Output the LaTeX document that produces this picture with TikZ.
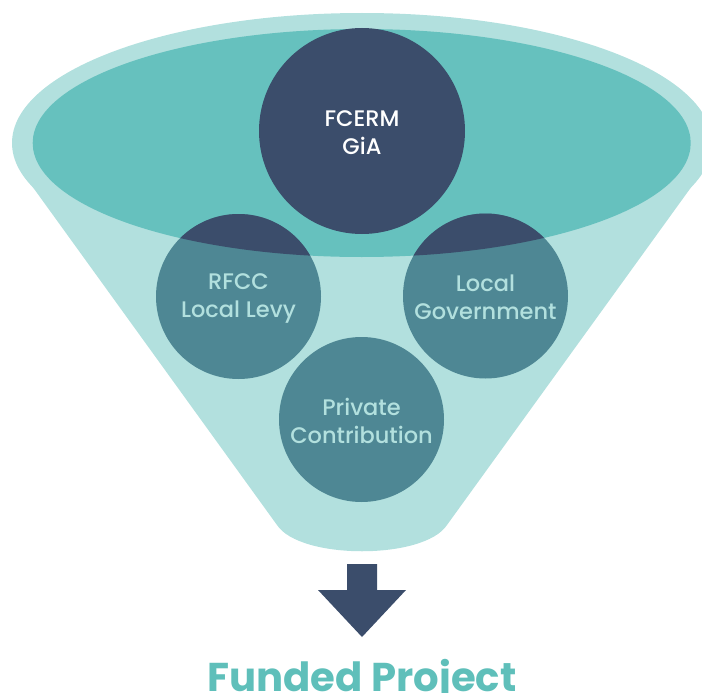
\documentclass[tikz,border=0pt]{standalone}
\usepackage{fontspec}
\setmainfont{Poppins}[UprightFont={* Medium}, BoldFont={* Bold}]
\definecolor{lightteal}{HTML}{B2E0DE}
\definecolor{midteal}{HTML}{66C1BE}
\definecolor{navy}{HTML}{3B4D6B}
\definecolor{muted}{HTML}{4E8794}
\definecolor{titleteal}{HTML}{5FBFBA}
\tikzset{
  fund/.style={circle, fill=muted, minimum size=165pt, inner sep=0pt},
  bigfund/.style={circle, fill=navy, minimum size=206pt, inner sep=0pt},
  lbl/.style={align=center, text=lightteal, font=\fontsize{22.5}{28}\selectfont},
  biglbl/.style={align=center, text=white, font=\fontsize{22.5}{28}\selectfont},
}
\begin{document}
\begin{tikzpicture}[x=1pt,y=-1pt]
\useasboundingbox (0,0) rectangle (702,693);
% funnel body
\fill[lightteal] (362,143) ellipse [x radius=350, y radius=130];
\fill[lightteal] (32,186) -- (277,525) .. controls (300,560) and (424,560) .. (447,525) -- (692,186) -- cycle;
% inner rim
\fill[midteal] (361.7,143) ellipse [x radius=329, y radius=114];
% lower circles
\node[fund] (rfcc) at (238.5,296.5) {};
\node[fund] (lg) at (485.5,296) {};
\node[fund] (pc) at (361.5,419.5) {};
\begin{scope}
  \clip (361.7,143) ellipse [x radius=329, y radius=114];
  \fill[navy] (rfcc.center) circle (82.5);
  \fill[navy] (lg.center) circle (82.5);
\end{scope}
% top circle
\node[bigfund] (gia) at (362,131) {};
% labels
\node[biglbl] (giat) at (362,133) {FCERM\\GiA};
\node[lbl] (rfcct) at (238.5,298) {RFCC\\Local Levy};
\node[lbl] (lgt) at (485.5,297) {Local\\Government};
\node[lbl] (pct) at (361.5,421) {Private\\Contribution};
% arrow
\fill[navy] (347,564) -- (377,564) -- (377,590) -- (406,590) -- (362,637) -- (318,590) -- (347,590) -- cycle;
\node[anchor=base, text=titleteal, font=\fontsize{40.2}{40}\selectfont\bfseries] (title) at (362,691) {Funded Project};
\end{tikzpicture}
\end{document}
